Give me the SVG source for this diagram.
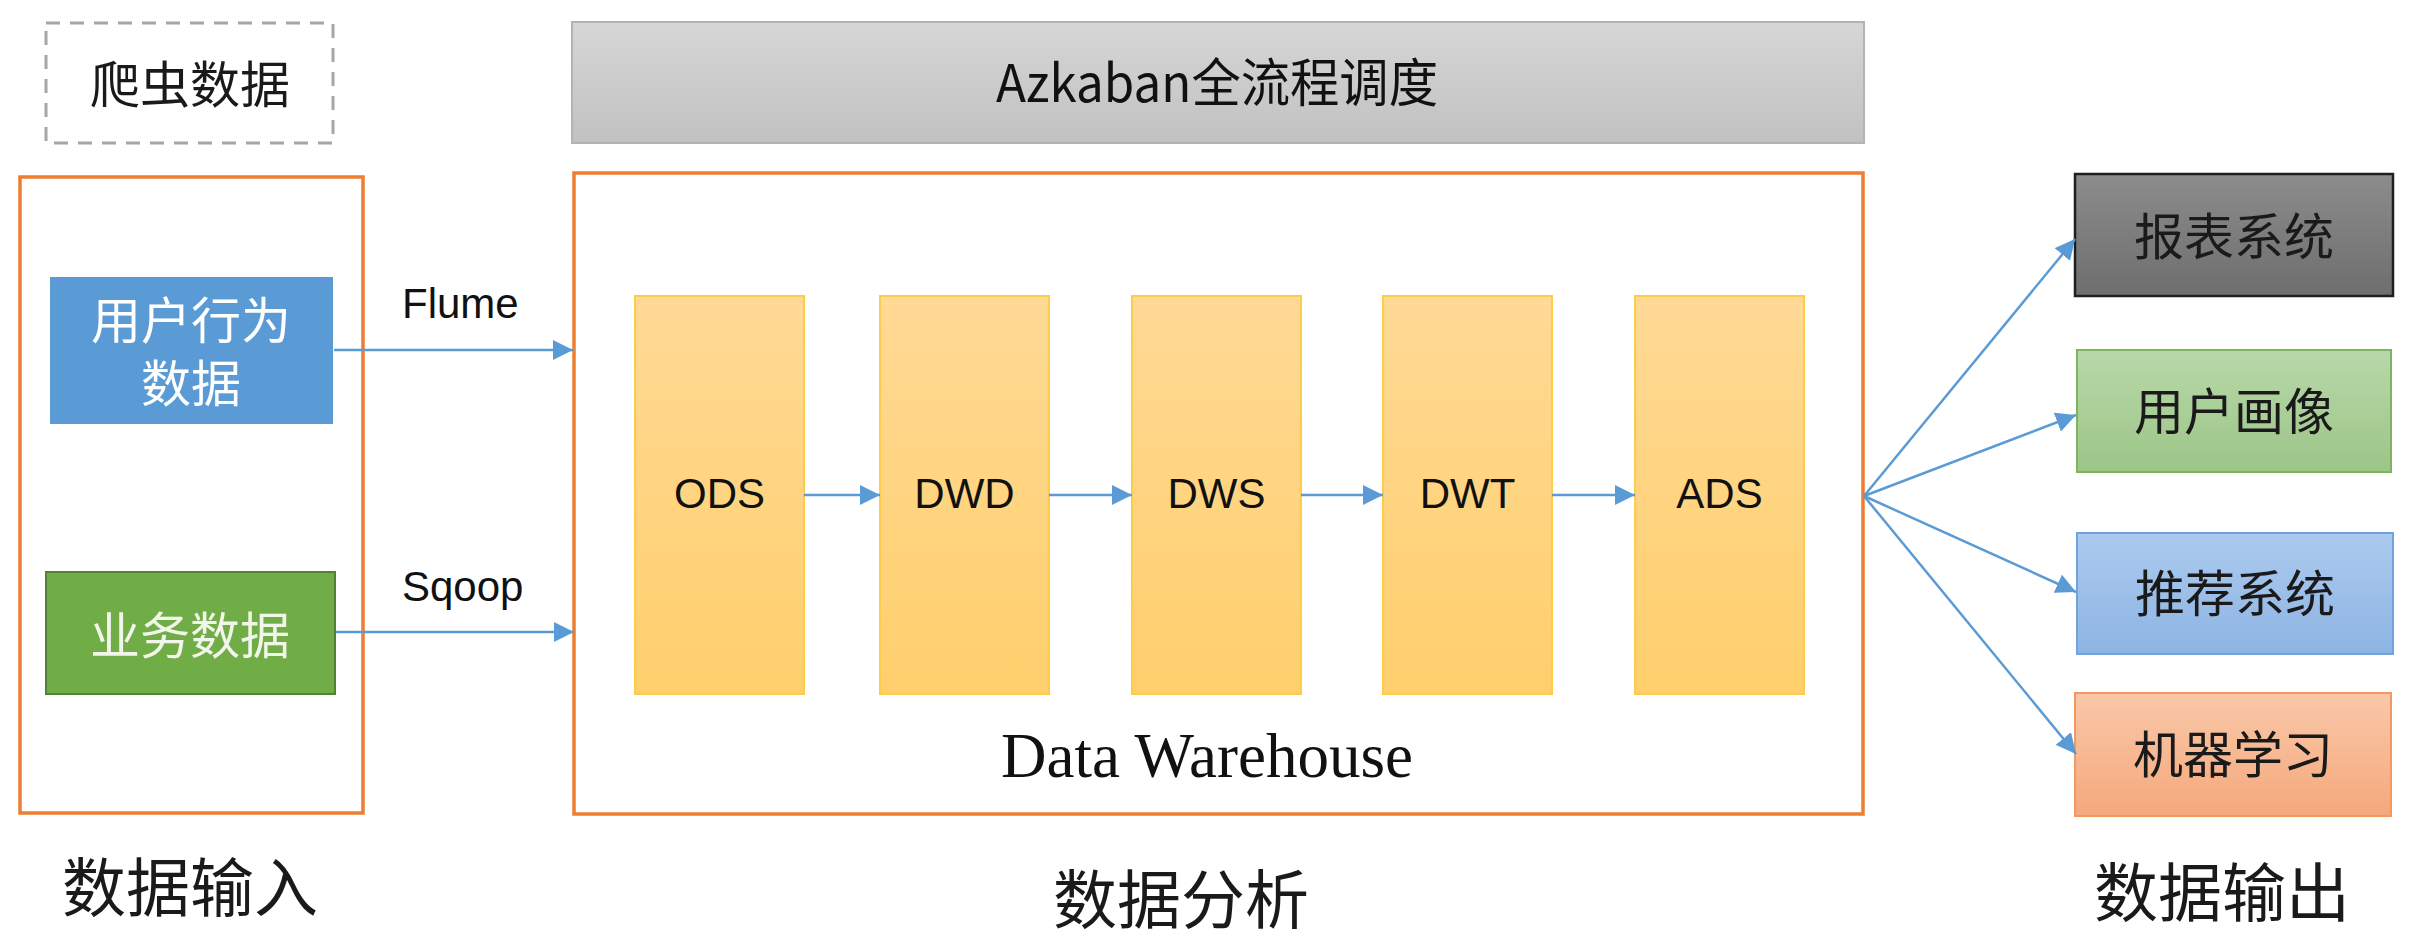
<svg xmlns="http://www.w3.org/2000/svg" width="2432" height="944" viewBox="0 0 2432 944">
  <defs>
    <linearGradient id="gGray" x1="0" y1="0" x2="0" y2="1">
      <stop offset="0" stop-color="#D6D6D6"/>
      <stop offset="1" stop-color="#C1C1C1"/>
    </linearGradient>
    <linearGradient id="gYellow" x1="0" y1="0" x2="0" y2="1">
      <stop offset="0" stop-color="#FFDA96"/>
      <stop offset="1" stop-color="#FFCF6C"/>
    </linearGradient>
    <linearGradient id="gDark" x1="0" y1="0" x2="0" y2="1">
      <stop offset="0" stop-color="#8C8C8C"/>
      <stop offset="1" stop-color="#6E6E6E"/>
    </linearGradient>
    <linearGradient id="gGreen" x1="0" y1="0" x2="0" y2="1">
      <stop offset="0" stop-color="#B8D8A9"/>
      <stop offset="1" stop-color="#9CC587"/>
    </linearGradient>
    <linearGradient id="gBlue" x1="0" y1="0" x2="0" y2="1">
      <stop offset="0" stop-color="#ACCAEE"/>
      <stop offset="1" stop-color="#8DB4E3"/>
    </linearGradient>
    <linearGradient id="gOrange" x1="0" y1="0" x2="0" y2="1">
      <stop offset="0" stop-color="#F9C8A9"/>
      <stop offset="1" stop-color="#F5A87B"/>
    </linearGradient>
    <marker id="arrow" viewBox="0 0 20 20" refX="20" refY="10" markerWidth="20" markerHeight="20" markerUnits="userSpaceOnUse" orient="auto">
      <path d="M0,0 L20,10 L0,20 Z" fill="#5B9BD5"/>
    </marker>
  </defs>
  <style>
    .cjk { font-family: "Noto Sans CJK SC", "Liberation Sans", sans-serif; }
    .lat { font-family: "Liberation Sans", Arial, sans-serif; }
    .frame { fill: #FFFFFF; stroke: #ED7D31; stroke-width: 3.5; }
    .layer { fill: url(#gYellow); stroke: #FFCB4A; stroke-width: 2; }
    .conn { stroke: #5B9BD5; stroke-width: 2.5; fill: none; marker-end: url(#arrow); }
    .t50 { font-size: 50px; text-anchor: middle; }
    .t64 { font-size: 64px; text-anchor: middle; fill: #1A1A1A; }
    .t42 { font-size: 42px; fill: #111111; }
  </style>

  <rect x="0" y="0" width="2432" height="944" fill="#FFFFFF"/>

  <g id="crawler">
    <rect x="46" y="23" width="287" height="120" fill="none" stroke="#A6A6A6" stroke-width="3" stroke-dasharray="14 10"/>
    <text class="cjk t50" x="190" y="103" fill="#1A1A1A">爬虫数据</text>
  </g>

  <g id="input-frame">
    <rect class="frame" x="20" y="177" width="343" height="636"/>
  </g>

  <g id="user-behavior">
    <rect x="50" y="277" width="283" height="147" fill="#5B9BD5"/>
    <text class="cjk t50" fill="#FFFFFF"><tspan x="191" y="339">用户行为</tspan><tspan x="191" y="402">数据</tspan></text>
  </g>

  <g id="business-data">
    <rect x="46" y="572" width="289" height="122" fill="#70AD47" stroke="#548235" stroke-width="2"/>
    <text class="cjk t50" x="190" y="654" fill="#F2F6EA">业务数据</text>
  </g>

  <g id="azkaban">
    <rect x="572" y="22" width="1292" height="121" fill="url(#gGray)" stroke="#B3B3B3" stroke-width="2"/>
    <text class="cjk" x="1217" y="102" font-size="52" text-anchor="middle" fill="#111111" textLength="442" lengthAdjust="spacingAndGlyphs">Azkaban全流程调度</text>
  </g>

  <g id="warehouse">
    <rect class="frame" x="574" y="173" width="1289" height="641"/>
    <text x="1207" y="777" font-family="'Liberation Serif', 'Times New Roman', serif" font-size="63" text-anchor="middle" fill="#111111">Data Warehouse</text>
  </g>

  <g id="ods">
    <rect class="layer" x="635" y="296" width="169" height="398"/>
    <text class="lat t42" x="719.5" y="508" text-anchor="middle">ODS</text>
  </g>
  <g id="dwd">
    <rect class="layer" x="880" y="296" width="169" height="398"/>
    <text class="lat t42" x="964.5" y="508" text-anchor="middle">DWD</text>
  </g>
  <g id="dws">
    <rect class="layer" x="1132" y="296" width="169" height="398"/>
    <text class="lat t42" x="1216.5" y="508" text-anchor="middle">DWS</text>
  </g>
  <g id="dwt">
    <rect class="layer" x="1383" y="296" width="169" height="398"/>
    <text class="lat t42" x="1467.5" y="508" text-anchor="middle">DWT</text>
  </g>
  <g id="ads">
    <rect class="layer" x="1635" y="296" width="169" height="398"/>
    <text class="lat t42" x="1719.5" y="508" text-anchor="middle">ADS</text>
  </g>

  <g id="report">
    <rect x="2075" y="174" width="318" height="122" fill="url(#gDark)" stroke="#1F1F1F" stroke-width="2.5"/>
    <text class="cjk t50" x="2234" y="255" fill="#1A1A1A">报表系统</text>
  </g>
  <g id="profile">
    <rect x="2077" y="350" width="314" height="122" fill="url(#gGreen)" stroke="#7EB360" stroke-width="2"/>
    <text class="cjk t50" x="2234" y="430" fill="#1A1A1A">用户画像</text>
  </g>
  <g id="recommend">
    <rect x="2077" y="533" width="316" height="121" fill="url(#gBlue)" stroke="#6FA3DC" stroke-width="2"/>
    <text class="cjk t50" x="2235" y="612" fill="#1A1A1A">推荐系统</text>
  </g>
  <g id="ml">
    <rect x="2075" y="693" width="316" height="123" fill="url(#gOrange)" stroke="#F09A62" stroke-width="2"/>
    <text class="cjk t50" x="2233" y="773" fill="#1A1A1A">机器学习</text>
  </g>

  <g id="section-labels">
    <text class="cjk t64" x="190" y="911">数据输入</text>
    <text class="cjk t64" x="1181" y="923">数据分析</text>
    <text class="cjk t64" x="2222" y="916">数据输出</text>
  </g>

  <g id="connectors">
    <line class="conn" x1="334" y1="350" x2="573" y2="350"/>
    <text class="lat t42" x="402" y="318">Flume</text>
    <line class="conn" x1="336" y1="632" x2="574" y2="632"/>
    <text class="lat t42" x="402" y="601">Sqoop</text>
    <line class="conn" x1="804" y1="495" x2="880" y2="495"/>
    <line class="conn" x1="1049" y1="495" x2="1132" y2="495"/>
    <line class="conn" x1="1301" y1="495" x2="1383" y2="495"/>
    <line class="conn" x1="1552" y1="495" x2="1635" y2="495"/>
    <line class="conn" x1="1864" y1="496" x2="2075" y2="239"/>
    <line class="conn" x1="1864" y1="496" x2="2076" y2="415"/>
    <line class="conn" x1="1864" y1="496" x2="2076" y2="592"/>
    <line class="conn" x1="1864" y1="496" x2="2076" y2="754"/>
  </g>
</svg>
